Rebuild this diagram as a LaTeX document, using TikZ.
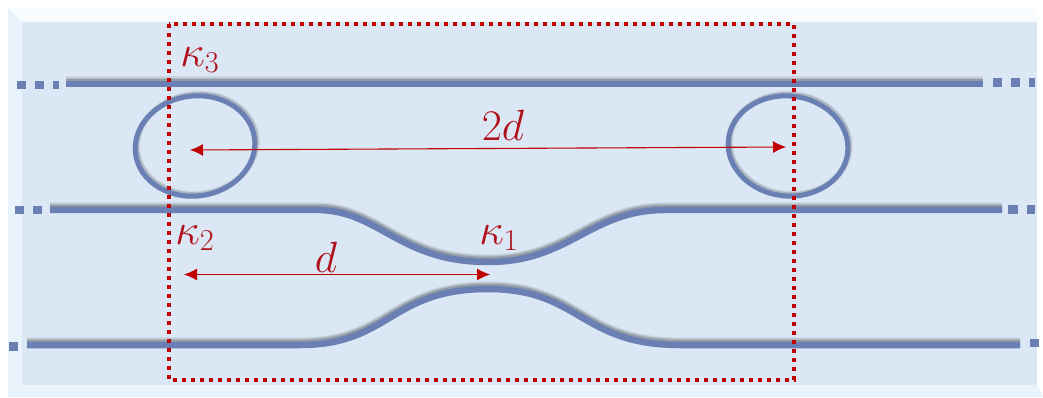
\documentclass[tikz,border=0pt]{standalone}
\usetikzlibrary{arrows.meta}
\definecolor{panel}{HTML}{DBE7F4}
\definecolor{strip}{HTML}{E8F3FC}
\definecolor{topstrip}{HTML}{F9FCFE}
\definecolor{guide}{HTML}{6A80B4}
\definecolor{shade}{HTML}{5F6468}
\definecolor{mark}{HTML}{C00000}
\definecolor{labelred}{HTML}{B0101A}
\newcommand{\guidepath}[1]{%
  \draw[shadelayer, line width=0.2cm, opacity=.14, shift={(0,-2.6)}] #1;
  \draw[shadelayer, line width=0.16cm, opacity=.22, shift={(0,-2.4)}] #1;
  \draw[shadelayer, line width=0.12cm, opacity=.35, shift={(0,-2.2)}] #1;
  \draw[guideline, line width=0.13cm] #1;
}
\newcommand{\ringpath}[1]{%
  \draw[shadelayer, line width=0.13cm, opacity=.12, shift={(1.6,-1.8)}] #1;
  \draw[shadelayer, line width=0.09cm, opacity=.28, shift={(1.6,-1.8)}] #1;
  \draw[guideline, line width=0.1cm] #1;
}
\newcommand{\stub}[4]{\fill[guide] (#1,#3) rectangle (#2,#4);}
\tikzset{
  x=0.02cm, y=-0.02cm,
  shadelayer/.style={draw=shade, line cap=butt},
  guideline/.style={draw=guide, line cap=butt},
  boundary/.style={draw=mark, line width=0.08cm, dash pattern=on 0.09cm off 0.09cm},
  measure/.style={draw=mark, line width=0.022cm, {Latex[length=0.26cm,width=0.24cm]}-{Latex[length=0.26cm,width=0.24cm]}},
  symbol/.style={text=labelred, font=\fontsize{24.5}{26}\selectfont, inner sep=0pt},
  bigsymbol/.style={text=labelred, font=\fontsize{27}{29}\selectfont, inner sep=0pt}
}
\begin{document}
\begin{tikzpicture}
\useasboundingbox (0,0) rectangle (1043,398);
\fill[white] (0,0) rectangle (1043,398);
% bevelled frame
\fill[topstrip] (8,8) -- (1037,8) -- (1037,22) -- (22,22) -- cycle;
\fill[strip] (8,8) -- (22,22) -- (22,385) -- (8,397) -- cycle;
\fill[strip] (8,397) -- (22,385) -- (1037,385) -- (1043,397) -- cycle;
\fill[panel] (22,22) rectangle (1037,385);
% rings
\ringpath{(195,146) ellipse [x radius=60, y radius=50, rotate=8]}
\ringpath{(788,146) ellipse [x radius=60, y radius=50, rotate=-6]}
% waveguides
\guidepath{(66,84) -- (983,84)}
\guidepath{(50,210) -- (320,210) .. controls (380,212) and (400,262) .. (488,262) .. controls (570,262) and (590,210) .. (665,210) -- (1002,210)}
\guidepath{(27,345) -- (300,345) .. controls (390,345) and (390,289) .. (488,289) .. controls (580,289) and (580,345) .. (680,345) -- (1020,345)}
% continuation stubs
\stub{17}{26}{81}{89}\stub{35}{44}{81}{89}\stub{53}{59}{81}{89}
\stub{993}{1002}{78}{87}\stub{1011}{1020}{78}{87}\stub{1029}{1035}{78}{87}
\stub{15}{24}{206}{214}\stub{33}{42}{206}{214}
\stub{1008}{1018}{205}{214}\stub{1027}{1035}{205}{214}
\stub{9}{18}{342}{351}
\stub{1030}{1039}{339}{347}
% boundary
\draw[boundary] (169,24) rectangle (794,380);
% measures
\coordinate (ringL) at (190,150);
\coordinate (ringR) at (786,147);
\coordinate (midL) at (184,274.5);
\coordinate (midR) at (490,274.5);
\draw[measure] (ringL) -- (ringR);
\draw[measure] (midL) -- (midR);
% labels
\node[symbol] (k3) at (200,60) {$\kappa_3$};
\node[symbol] (k2) at (195,238) {$\kappa_2$};
\node[symbol] (k1) at (499,238) {$\kappa_1$};
\node[bigsymbol] (twod) at (503,125) {$2d$};
\node[bigsymbol] (dd) at (326,257) {$d$};
\end{tikzpicture}
\end{document}
